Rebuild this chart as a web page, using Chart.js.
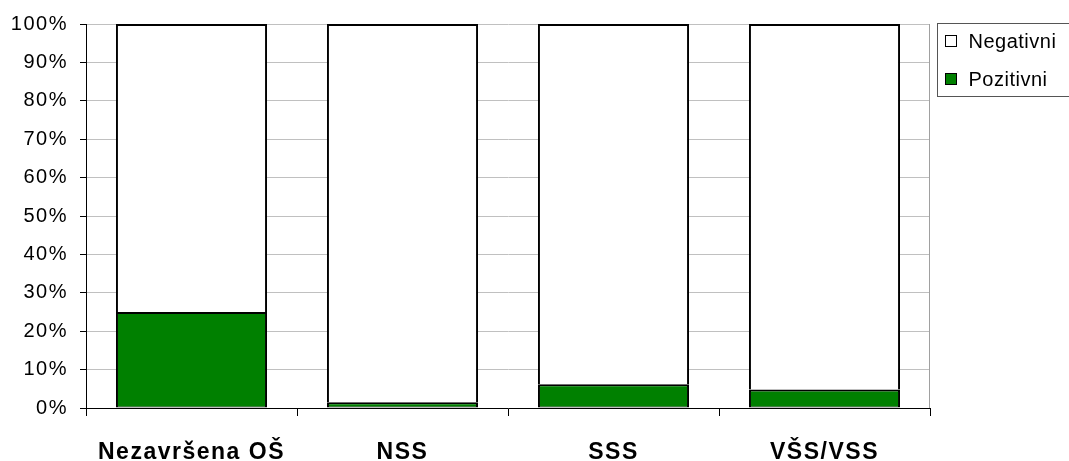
<!DOCTYPE html>
<html>
<head>
<meta charset="utf-8">
<script src="https://cdn.jsdelivr.net/npm/chart.js@4/dist/chart.umd.min.js"></script>
<style>
  html, body { margin: 0; padding: 0; background: #fff; }
  #wrap { width: 1069px; height: 461px; }
</style>
</head>
<body>
<div id="wrap"><canvas id="chart_education"></canvas></div>
<script>
const categories = ['Nezavršena OŠ', 'NSS', 'SSS', 'VŠS/VSS'];
const positivni = [25, 1.5, 6.2, 4.8];
const negativni = [75, 98.5, 93.8, 95.2];
const yTicks = [0, 10, 20, 30, 40, 50, 60, 70, 80, 90, 100];

const green = '#008000';
const fontName = '"Liberation Sans", Arial, sans-serif';

// axis labels are drawn slightly letter-spaced
const spacingPlugin = {
  id: 'spacing',
  beforeDraw(chart) {
    chart.ctx.letterSpacing = '1.5px';
  }
};

// right frame line of the plot + boxed legend beside it
const framePlugin = {
  id: 'frame',
  afterDraw(chart) {
    const ctx = chart.ctx;
    const area = chart.chartArea;
    ctx.save();
    ctx.letterSpacing = '0.5px';
    ctx.strokeStyle = '#a0a0a0';
    ctx.lineWidth = 1;
    ctx.beginPath();
    ctx.moveTo(area.right - 0.5, area.top);
    ctx.lineTo(area.right - 0.5, area.bottom);
    ctx.stroke();

    const left = area.right + 7.5;
    const top = area.top - 0.5;
    ctx.strokeStyle = '#555';
    ctx.strokeRect(left, top, 160, 73);

    const items = [
      { text: 'Negativni', fill: '#ffffff', y: top + 18 },
      { text: 'Pozitivni', fill: green, y: top + 56 }
    ];
    ctx.font = '20px ' + fontName;
    ctx.textBaseline = 'middle';
    items.forEach(item => {
      ctx.fillStyle = item.fill;
      ctx.fillRect(left + 8, item.y - 6, 11, 11);
      ctx.strokeStyle = '#000';
      ctx.strokeRect(left + 8, item.y - 6, 11, 11);
      ctx.fillStyle = '#000';
      ctx.fillText(item.text, left + 31, item.y + 1);
    });
    ctx.restore();
  }
};

new Chart(document.getElementById('chart_education'), {
  type: 'bar',
  data: {
    labels: categories,
    datasets: [
      {
        label: 'Pozitivni',
        data: positivni,
        backgroundColor: green,
        borderColor: '#000',
        borderWidth: { top: 2, left: 2, right: 2, bottom: 1 },
        borderSkipped: false
      },
      {
        label: 'Negativni',
        data: negativni,
        backgroundColor: '#ffffff',
        borderColor: '#000',
        borderWidth: { top: 2, left: 2, right: 2, bottom: 0 },
        borderSkipped: false
      }
    ]
  },
  options: {
    responsive: true,
    maintainAspectRatio: false,
    animation: false,
    datasets: {
      bar: { categoryPercentage: 1, barPercentage: 0.716 }
    },
    layout: {
      padding: { top: 24, right: 139, left: 0, bottom: 0 }
    },
    scales: {
      x: {
        stacked: true,
        offset: true,
        afterFit: (axis) => { axis.height = 53; },
        border: { color: '#000', width: 1 },
        grid: {
          offset: true,
          drawOnChartArea: false,
          drawTicks: true,
          tickLength: 8,
          tickColor: '#000'
        },
        ticks: {
          color: '#000',
          padding: 23,
          font: { family: fontName, size: 23, weight: 'bold' }
        }
      },
      y: {
        stacked: true,
        min: 0,
        max: 100,
        afterFit: (axis) => { axis.width = 86; },
        afterBuildTicks: (axis) => { axis.ticks = yTicks.map(v => ({ value: v })); },
        border: { color: '#000', width: 1 },
        grid: {
          color: '#c0c0c0',
          tickColor: '#000',
          tickLength: 6
        },
        ticks: {
          color: '#000',
          padding: 12,
          font: { family: fontName, size: 20 },
          callback: (v) => v + '%'
        }
      }
    },
    plugins: {
      legend: { display: false },
      tooltip: { enabled: false }
    }
  },
  plugins: [spacingPlugin, framePlugin]
});
</script>
</body>
</html>
